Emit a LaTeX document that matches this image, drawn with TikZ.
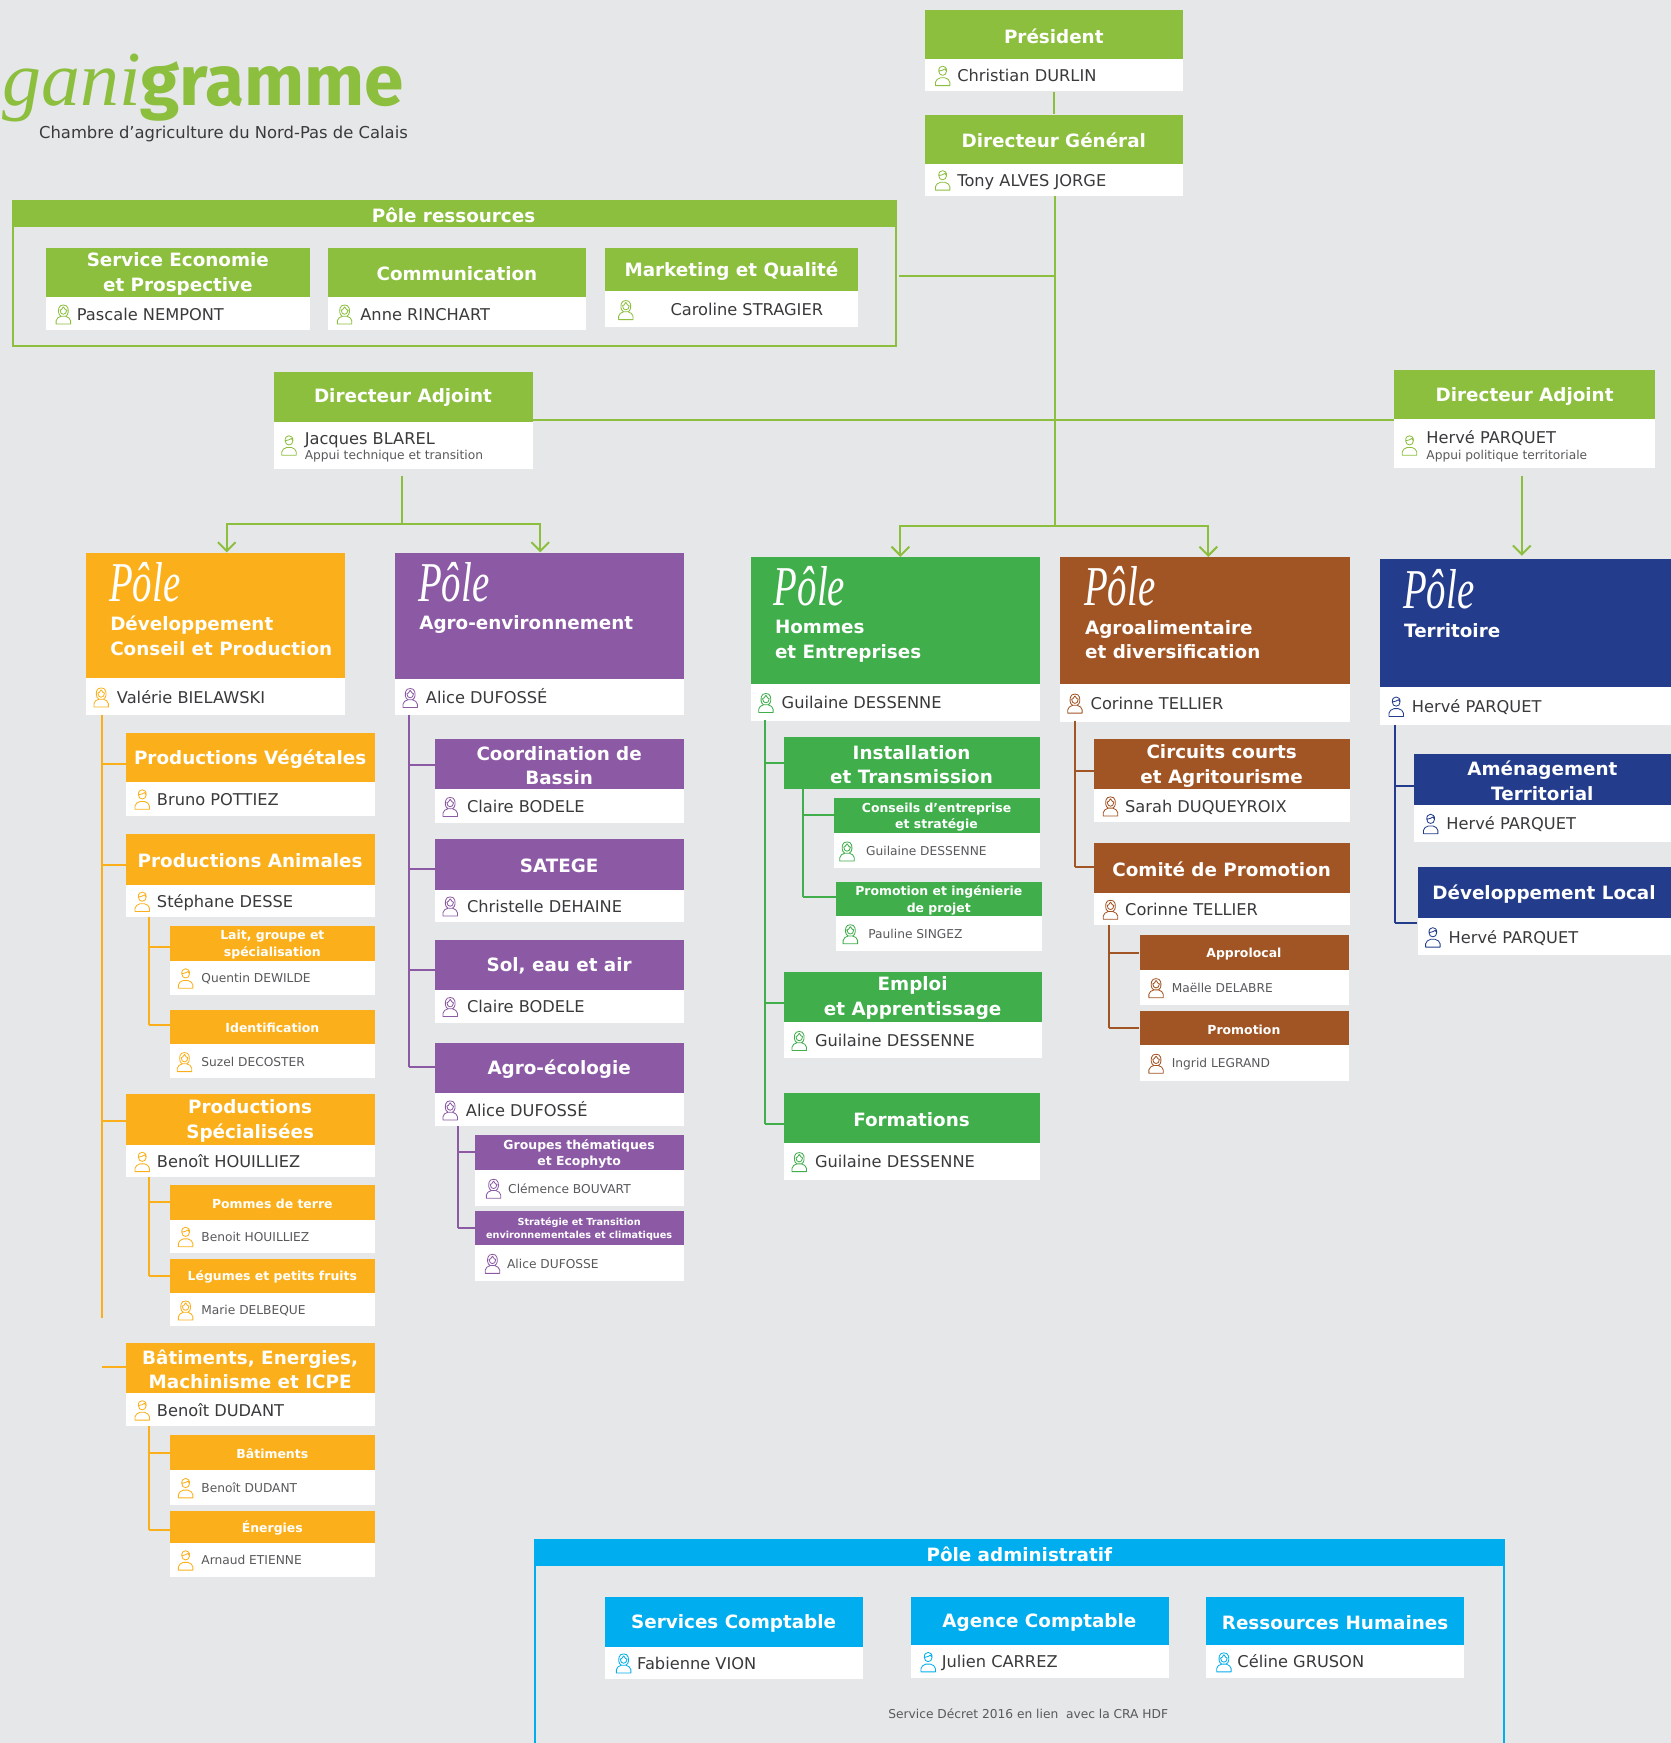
\documentclass[tikz,border=0pt]{standalone}
\usepackage{fontspec}
\setmainfont{DejaVu Sans}
\newfontfamily\scriptface{Liberation Serif}
\newfontfamily\logoface{Fira Sans}
\usetikzlibrary{arrows.meta,calc}
\definecolor{bgc}{HTML}{E6E7E9}
\definecolor{lime}{HTML}{8DBF3F}
\definecolor{orangeP}{HTML}{FBB01B}
\definecolor{purpleP}{HTML}{8C5AA5}
\definecolor{greenP}{HTML}{3FAE4B}
\definecolor{brownP}{HTML}{A15424}
\definecolor{navyP}{HTML}{233C8C}
\definecolor{cyanP}{HTML}{00AEEF}
\definecolor{ink}{HTML}{3A3A3C}
\definecolor{softink}{HTML}{58595B}
\tikzset{
  headbox/.style={anchor=north west,inner sep=0pt,fill=cur},
  headtext/.style={inner sep=0pt,text=white,align=center},
  bodybox/.style={anchor=north west,inner sep=0pt,fill=white},
  nametext/.style={anchor=west,inner sep=0pt,text=ink,text height=14pt,text depth=2pt},
  smalltext/.style={anchor=west,inner sep=0pt,text=softink,text height=11pt,text depth=1.5pt},
  linkline/.style={draw=cur,line width=1.8pt},
  arrowline/.style={draw=lime,line width=1.8pt,-{Straight Barb[length=8pt,width=16pt,line width=1.8pt]}},
  limeline/.style={draw=lime,line width=1.8pt},
  womanicon/.pic={
    \draw[cur,line width=.75pt,line join=round]
      (-6.5,9.5) -- (-6.5,6.5) .. controls (-6.5,4) and (-4,3.5) .. (-2,2.5)
      -- (2,2.5) .. controls (4,3.5) and (6.5,4) .. (6.5,6.5) -- (6.5,9.5) -- cycle
      (-2,2.5) .. controls (-5,1) and (-4.5,-3) .. (-4,-5) .. controls (-3.5,-8.5) and (3.5,-8.5) .. (4,-5)
      .. controls (4.5,-3) and (5,1) .. (2,2.5)
      (0,-6) .. controls (-1,-3.5) and (-2.5,-3) .. (-3,-3)  (0,-6) .. controls (1,-3.5) and (2.5,-3) .. (3,-3)
      (-3,-3) .. controls (-3,2) and (3,2) .. (3,-3);
  },
  manicon/.pic={
    \draw[cur,line width=.75pt,line join=round]
      (-6.5,9.5) -- (-6.5,6.5) .. controls (-6.5,4) and (-4,3.5) .. (-2,2.5)
      -- (2,2.5) .. controls (4,3.5) and (6.5,4) .. (6.5,6.5) -- (6.5,9.5) -- cycle
      (-3.5,-3.5) .. controls (-4,-9.5) and (4,-9.5) .. (3.5,-3.5)
      .. controls (3.5,1.5) and (-3.5,1.5) .. (-3.5,-3.5)
      (-3.5,-3.5) .. controls (-1,-4) and (1,-4.5) .. (2,-5.5) .. controls (2.5,-4.5) and (3,-4) .. (3.5,-3.5);
  }
}
\newcommand{\setcur}[1]{\colorlet{cur}{#1}}
% \hd{id}{x1}{x2}{y1}{y2}{size}{leading}{text}
\newcommand{\hd}[8]{%
  \pgfmathsetmacro{\bw}{#3-#2}\pgfmathsetmacro{\bh}{#5-#4}%
  \pgfmathsetmacro{\cx}{(#2+#3)/2}\pgfmathsetmacro{\cy}{(#4+#5)/2+1.5}%
  \node[headbox,minimum width=\bw pt,minimum height=\bh pt] (#1-h) at (#2,#4) {};
  \node[headtext,font=\bfseries\fontsize{#6}{#7}\selectfont] (#1-l) at (\cx,\cy) {#8};}
\newcommand{\pp}[3]{%
  \pgfmathsetmacro{\bw}{#2-#1}\pgfmathsetmacro{\bh}{#3}}
% \bd{id}{x1}{x2}{y1}{y2}{icon}{iconx}{textx}{name}
\newcommand{\bd}[9]{%
  \pgfmathsetmacro{\bw}{#3-#2}\pgfmathsetmacro{\bh}{#5-#4}\pgfmathsetmacro{\cy}{(#4+#5)/2}%
  \node[bodybox,minimum width=\bw pt,minimum height=\bh pt] (#1-b) at (#2,#4) {};
  \pic at (#7,\cy) {#6icon};
  \node[nametext,font=\fontsize{14.6}{17}\selectfont] (#1-t) at (#8,\cy) {#9};}
\newcommand{\bds}[9]{%
  \pgfmathsetmacro{\bw}{#3-#2}\pgfmathsetmacro{\bh}{#5-#4}\pgfmathsetmacro{\cy}{(#4+#5)/2}%
  \node[bodybox,minimum width=\bw pt,minimum height=\bh pt] (#1-b) at (#2,#4) {};
  \pic at (#7,\cy) {#6icon};
  \node[smalltext,font=\fontsize{11}{13}\selectfont] (#1-t) at (#8,\cy) {#9};}
% \pole{id}{x}{ypole}{ytext}{text}
\newcommand{\pole}[5]{%
  \node[anchor=base west,inner sep=0pt,text=white,font=\scriptface\itshape\fontsize{46}{46}\selectfont] (#1-s) at (#2,#3) {\scalebox{.76}[1.1]{Pôle}};
  \node[anchor=north west,inner sep=0pt,text=white,align=left,font=\bfseries\fontsize{16.5}{22}\selectfont] (#1-x) at (#2+1,#4) {#5};}
% \branch{spine}{node}{y}
\newcommand{\branch}[3]{\draw[linkline] (#1 |- 0,#3) -- (#2.west |- 0,#3);}
\begin{document}
\begin{tikzpicture}[x=1pt,y=-1pt]
\useasboundingbox (0,0) rectangle (1503,1568);
\fill[bgc] (0,0) rectangle (1503,1568);

% logo
\node[anchor=base west,inner sep=0pt,text=lime,font=\scriptface\itshape\fontsize{70}{70}\selectfont] (logoa) at (2,95) {gani};
\node[anchor=base west,inner sep=0pt,text=lime,font=\logoface\bfseries\fontsize{64}{64}\selectfont] (logob) at (126,95) {gramme};
\node[anchor=base west,inner sep=0pt,text=ink,font=\fontsize{14.75}{17}\selectfont] (logoc) at (35,125) {Chambre d’agriculture du Nord-Pas de Calais};

% ===== top
\setcur{lime}
\hd{pres}{832}{1064}{9}{53}{16.5}{22}{Président}
\bd{pres}{832}{1064}{53}{82}{man}{848}{861}{Christian DURLIN}
\hd{dg}{832}{1064}{103}{147}{16.5}{22}{Directeur Général}
\bd{dg}{832}{1064}{147}{176}{man}{848}{861}{Tony ALVES JORGE}
\draw[limeline] (pres-b.south -| 948,0) -- (dg-h.north -| 948,0);

% ressources frame
\node[draw=lime,line width=1.8pt,anchor=north west,inner sep=0pt,minimum width=794pt,minimum height=130pt] (resF) at (11,180) {};
\hd{resT}{11}{805}{180}{204}{16.5}{22}{Pôle ressources}
\hd{eco}{41}{279}{223}{267}{16.5}{22}{Service Economie\\et Prospective}
\bd{eco}{41}{279}{267}{297}{woman}{57}{69}{Pascale NEMPONT}
\hd{com}{295}{527}{223}{267}{16.5}{22}{Communication}
\bd{com}{295}{527}{267}{297}{woman}{310}{324}{Anne RINCHART}
\hd{mkt}{544}{772}{223}{262}{16.5}{22}{Marketing et Qualité}
\bd{mkt}{544}{772}{262}{294}{woman}{563}{603}{Caroline STRAGIER}

% adjoints
\hd{adjL}{246}{479}{334}{379}{16.5}{22}{Directeur Adjoint}
\node[bodybox,minimum width=233pt,minimum height=43pt] (adjL-b) at (246,379) {};
\pic at (260,400) {manicon};
\node[nametext,font=\fontsize{14.6}{17}\selectfont] (adjL-t) at (274,394) {Jacques BLAREL};
\node[smalltext,font=\fontsize{11}{13}\selectfont] (adjL-u) at (274,409) {Appui technique et transition};
\hd{adjR}{1254}{1489}{333}{377}{16.5}{22}{Directeur Adjoint}
\node[bodybox,minimum width=235pt,minimum height=44pt] (adjR-b) at (1254,377) {};
\pic at (1268,400) {manicon};
\node[nametext,font=\fontsize{14.6}{17}\selectfont] (adjR-t) at (1283,393) {Hervé PARQUET};
\node[smalltext,font=\fontsize{11}{13}\selectfont] (adjR-u) at (1283,409) {Appui politique territoriale};

% ===== pole heads
\setcur{orangeP}
\hd{p1}{77}{310}{497}{610}{16.5}{22}{}
\bd{p1}{77}{310}{610}{643}{woman}{91}{105}{Valérie BIELAWSKI}
\pole{p1}{98}{541}{554}{Développement\\Conseil et Production}
\setcur{purpleP}
\hd{p2}{355}{615}{497}{611}{16.5}{22}{}
\bd{p2}{355}{615}{611}{643}{woman}{369}{383}{Alice DUFOSSÉ}
\pole{p2}{376}{541}{554}{Agro-environnement}
\setcur{greenP}
\hd{p3}{675}{935}{501}{615}{16.5}{22}{}
\bd{p3}{675}{935}{615}{648}{woman}{689}{703}{Guilaine DESSENNE}
\pole{p3}{696}{545}{558}{Hommes\\et Entreprises}
\setcur{brownP}
\hd{p4}{953}{1214}{501}{615}{16.5}{22}{}
\bd{p4}{953}{1214}{615}{649}{woman}{967}{981}{Corinne TELLIER}
\pole{p4}{975}{545}{558}{Agroalimentaire\\et diversification}
\setcur{navyP}
\hd{p5}{1241}{1503}{503}{618}{16.5}{22}{}
\bd{p5}{1241}{1503}{618}{652}{man}{1256}{1270}{Hervé PARQUET}
\pole{p5}{1262}{547}{561}{Territoire}

% ===== green connectors
\setcur{lime}
\coordinate (trunkB) at (949,473);
\coordinate (leftB) at (362,471);
\coordinate (midL) at (810,473);
\coordinate (midR) at (1087,473);
\coordinate (resEnd) at (809,248);
\draw[limeline] (dg-b.south -| 949,0) -- (trunkB);
\draw[limeline] (resEnd) -- (resEnd -| trunkB);
\draw[limeline] (adjL-h.east |- 0,378) -- (adjR-h.west |- 0,378);
\draw[limeline] (362,428) -- (leftB);
\draw[arrowline] (leftB) -| (p1-h.north -| 204,0);
\draw[arrowline] (leftB) -| (p2-h.north -| 486,0);
\draw[arrowline] (trunkB) -- (midL) -- (p3-h.north -| midL);
\draw[arrowline] (trunkB) -- (midR) -- (p4-h.north -| midR);
\draw[arrowline] (1369,428) -- (1369,500);

% ===== orange
\setcur{orangeP}
\coordinate (sa) at (91.5,643);
\draw[linkline] (sa) -- (91.5,1186);
\hd{o1}{113}{337}{659}{703}{16.5}{22}{Productions Végétales}
\bd{o1}{113}{337}{703}{734}{man}{128}{141}{Bruno POTTIEZ}
\hd{o2}{113}{337}{750}{796}{16.5}{22}{Productions Animales}
\bd{o2}{113}{337}{796}{825}{man}{128}{141}{Stéphane DESSE}
\hd{o3}{153}{337}{833}{864}{11.2}{15}{Lait, groupe et\\spécialisation}
\bds{o3}{153}{337}{864}{895}{man}{167}{181}{Quentin DEWILDE}
\hd{o4}{153}{337}{908}{939}{11.2}{15}{Identification}
\bds{o4}{153}{337}{939}{970}{woman}{166}{181}{Suzel DECOSTER}
\hd{o5}{113}{337}{984}{1030}{16.5}{22}{Productions\\Spécialisées}
\bd{o5}{113}{337}{1030}{1059}{man}{128}{141}{Benoît HOUILLIEZ}
\hd{o6}{153}{337}{1066}{1097}{11.2}{15}{Pommes de terre}
\bds{o6}{153}{337}{1097}{1127}{man}{167}{181}{Benoit HOUILLIEZ}
\hd{o7}{153}{337}{1132}{1163}{11.2}{15}{Légumes et petits fruits}
\bds{o7}{153}{337}{1163}{1193}{woman}{167}{181}{Marie DELBEQUE}
\hd{o8}{113}{337}{1208}{1253}{16.5}{22}{Bâtiments, Energies,\\Machinisme et ICPE}
\bd{o8}{113}{337}{1253}{1283}{man}{128}{141}{Benoît DUDANT}
\hd{o9}{153}{337}{1291}{1322}{11.2}{15}{Bâtiments}
\bds{o9}{153}{337}{1322}{1354}{man}{167}{181}{Benoît DUDANT}
\hd{o10}{153}{337}{1359}{1388}{11.2}{15}{Énergies}
\bds{o10}{153}{337}{1388}{1418}{man}{167}{181}{Arnaud ETIENNE}
\branch{sa}{o1-h}{687}
\branch{sa}{o2-h}{778}
\branch{sa}{o5-h}{1008}
\draw[linkline] (91.5,1230) -- (o8-h.west |- 0,1230);
\coordinate (sb) at (134,825);
\draw[linkline] (sb) -- (134,922);
\branch{sb}{o3-h}{852}
\branch{sb}{o4-h}{922}
\coordinate (sc) at (134,1059);
\draw[linkline] (sc) -- (134,1148);
\branch{sc}{o6-h}{1081}
\branch{sc}{o7-h}{1148}
\coordinate (sd) at (134,1283);
\draw[linkline] (sd) -- (134,1376);
\branch{sd}{o9-h}{1307}
\branch{sd}{o10-h}{1376}

% ===== purple
\setcur{purpleP}
\coordinate (pa) at (368,643);
\draw[linkline] (pa) -- (368,960);
\hd{u1}{391}{615}{665}{710}{16.5}{22}{Coordination de\\Bassin}
\bd{u1}{391}{615}{710}{740}{woman}{405}{420}{Claire BODELE}
\hd{u2}{391}{615}{755}{800}{16.5}{22}{SATEGE}
\bd{u2}{391}{615}{800}{829}{woman}{405}{420}{Christelle DEHAINE}
\hd{u3}{391}{615}{845}{890}{16.5}{22}{Sol, eau et air}
\bd{u3}{391}{615}{890}{920}{woman}{405}{420}{Claire BODELE}
\hd{u4}{391}{615}{938}{983}{16.5}{22}{Agro-écologie}
\bd{u4}{391}{615}{983}{1013}{woman}{405}{419}{Alice DUFOSSÉ}
\hd{u5}{427}{615}{1021}{1052}{11.2}{15}{Groupes thématiques\\et Ecophyto}
\bds{u5}{427}{615}{1052}{1085}{woman}{444}{457}{Clémence BOUVART}
\hd{u6}{427}{615}{1089}{1120}{8.7}{12}{Stratégie et Transition\\environnementales et climatiques}
\bds{u6}{427}{615}{1120}{1152}{woman}{443}{456}{Alice DUFOSSE}
\branch{pa}{u1-h}{688}
\branch{pa}{u2-h}{782}
\branch{pa}{u3-h}{873}
\branch{pa}{u4-h}{960}
\coordinate (pb) at (412,1013);
\draw[linkline] (pb) -- (412,1105);
\branch{pb}{u5-h}{1036}
\branch{pb}{u6-h}{1105}

% ===== green
\setcur{greenP}
\coordinate (ga) at (688,648);
\draw[linkline] (ga) -- (688,1011);
\hd{g1}{705}{935}{663}{710}{16.5}{22}{Installation\\et Transmission}
\hd{g2}{750}{935}{718}{749}{11.2}{15}{Conseils d’entreprise\\et stratégie}
\bds{g2}{750}{935}{749}{781}{woman}{762}{779}{Guilaine DESSENNE}
\hd{g3}{752}{937}{793}{824}{11.2}{15}{Promotion et ingénierie\\de projet}
\bds{g3}{752}{937}{824}{855}{woman}{765}{781}{Pauline SINGEZ}
\hd{g4}{705}{937}{874}{919}{16.5}{22}{Emploi\\et Apprentissage}
\bd{g4}{705}{937}{919}{952}{woman}{719}{733}{Guilaine DESSENNE}
\hd{g5}{705}{935}{983}{1028}{16.5}{22}{Formations}
\bd{g5}{705}{935}{1028}{1061}{woman}{719}{733}{Guilaine DESSENNE}
\branch{ga}{g1-h}{686}
\branch{ga}{g4-h}{902}
\branch{ga}{g5-h}{1011}
\coordinate (gb) at (722,710);
\draw[linkline] (gb) -- (722,807);
\branch{gb}{g2-h}{733}
\branch{gb}{g3-h}{807}

% ===== brown
\setcur{brownP}
\coordinate (ba) at (967,649);
\draw[linkline] (ba) -- (967,780);
\hd{r1}{984}{1214}{665}{710}{16.5}{22}{Circuits courts\\et Agritourisme}
\bd{r1}{984}{1214}{710}{739}{woman}{999}{1012}{Sarah DUQUEYROIX}
\hd{r2}{984}{1214}{758}{803}{16.5}{22}{Comité de Promotion}
\bd{r2}{984}{1214}{803}{832}{woman}{999}{1012}{Corinne TELLIER}
\hd{r3}{1025}{1213}{841}{872}{11.2}{15}{Approlocal}
\bds{r3}{1025}{1213}{872}{904}{woman}{1040}{1054}{Maëlle DELABRE}
\hd{r4}{1025}{1213}{909}{940}{11.2}{15}{Promotion}
\bds{r4}{1025}{1213}{940}{972}{woman}{1040}{1054}{Ingrid LEGRAND}
\branch{ba}{r1-h}{694}
\branch{ba}{r2-h}{780}
\coordinate (bb) at (998,832);
\draw[linkline] (bb) -- (998,925);
\branch{bb}{r3-h}{857}
\branch{bb}{r4-h}{925}

% ===== navy
\setcur{navyP}
\coordinate (na) at (1255,652);
\draw[linkline] (na) -- (1255,830);
\hd{n1}{1272}{1503}{678}{724}{16.5}{22}{Aménagement\\Territorial}
\bd{n1}{1272}{1503}{724}{757}{man}{1287}{1301}{Hervé PARQUET}
\hd{n2}{1275}{1503}{780}{826}{16.5}{22}{Développement Local}
\bd{n2}{1275}{1503}{826}{859}{man}{1289}{1303}{Hervé PARQUET}
\branch{na}{n1-h}{707}
\branch{na}{n2-h}{830}

% ===== admin
\setcur{cyanP}
\draw[linkline] (481,1568) -- (481,1385) -- (1353,1385) -- (1353,1568);
\hd{admT}{481}{1353}{1385}{1409}{16.5}{22}{Pôle administratif}
\hd{a1}{544}{776}{1436}{1481}{16.5}{22}{Services Comptable}
\bd{a1}{544}{776}{1481}{1510}{woman}{561}{573}{Fabienne VION}
\hd{a2}{819}{1051}{1436}{1480}{16.5}{22}{Agence Comptable}
\bd{a2}{819}{1051}{1480}{1509}{man}{835}{847}{Julien CARREZ}
\hd{a3}{1085}{1317}{1436}{1480}{16.5}{22}{Ressources Humaines}
\bd{a3}{1085}{1317}{1480}{1509}{woman}{1101}{1113}{Céline GRUSON}
\node[inner sep=0pt,text=softink,font=\fontsize{11}{13}\selectfont] (decret) at (925,1542) {Service Décret 2016 en lien\ \ avec la CRA HDF};
\end{tikzpicture}
\end{document}
